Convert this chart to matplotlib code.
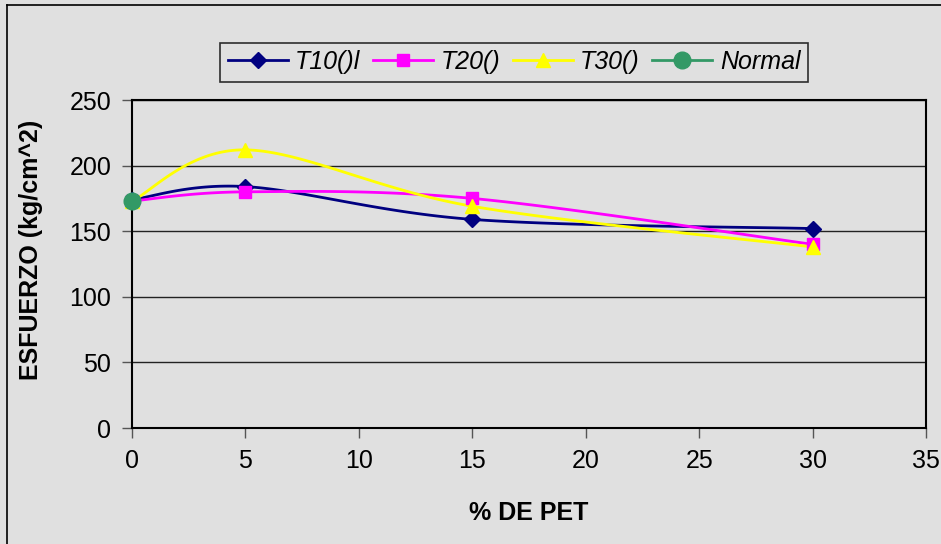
import numpy as np
import matplotlib.pyplot as plt
from matplotlib.lines import Line2D

plt.rcParams['font.family'] = ['Liberation Sans', 'DejaVu Sans']

# % de PET en la mezcla
pet = [0, 5, 15, 30]
t10 = [174, 184, 159, 152]
t20 = [173, 180, 175, 140]
t30 = [173, 212, 169, 138]
normal_x = [0]
normal_y = [173]

x_ticks = [0, 5, 10, 15, 20, 25, 30, 35]
y_ticks = [0, 50, 100, 150, 200, 250]


def smooth(xs, ys, n=40):
    # Catmull-Rom curve through the points, like a "smoothed line" in a spreadsheet
    p = np.column_stack([xs, ys]).astype(float)
    ext = np.vstack([p[0], p, p[-1]])
    out = []
    t = np.linspace(0, 1, n)[:, None]
    for i in range(1, len(ext) - 2):
        p0, p1, p2, p3 = ext[i - 1], ext[i], ext[i + 1], ext[i + 2]
        c1 = p1 + (p2 - p0) / 6
        c2 = p2 - (p3 - p1) / 6
        seg = ((1 - t) ** 3) * p1 + 3 * ((1 - t) ** 2) * t * c1 + 3 * (1 - t) * t ** 2 * c2 + t ** 3 * p2
        out.append(seg)
    curve = np.vstack(out)
    return curve[:, 0], curve[:, 1]


bg = '#e0e0e0'
fig = plt.figure(figsize=(9.41, 5.44), dpi=100, facecolor=bg)
ax = fig.add_axes([132 / 941, 116 / 544, 794 / 941, 328 / 544])
ax.set_facecolor(bg)

series = [
    (t10, '#000080', 'D', 8, 'T10()l'),
    (t20, '#ff00ff', 's', 9, 'T20()'),
    (t30, '#ffff00', '^', 10, 'T30()'),
]
handles = []
for ys, col, mk, ms, lab in series:
    sx, sy = smooth(pet, ys)
    ax.plot(sx, sy, color=col, lw=2, zorder=3, clip_on=False)
    ax.plot(pet, ys, ls='none', marker=mk, ms=ms, color=col, zorder=4, clip_on=False)
    handles.append(Line2D([], [], color=col, lw=2, marker=mk, ms=ms, label=lab))

ax.plot(normal_x, normal_y, ls='none', marker='o', ms=12, color='#339966', zorder=5, clip_on=False)
handles.append(Line2D([], [], color='#339966', lw=2, marker='o', ms=12, label='Normal'))

ax.set_xlim(0, 35)
ax.set_ylim(0, 250)
ax.set_xticks(x_ticks)
ax.set_yticks(y_ticks)
ax.tick_params(labelsize=18, length=7, width=1, color='#555555', pad=8)
ax.yaxis.grid(True, color='#222222', lw=1)
ax.set_axisbelow(True)
for s in ax.spines.values():
    s.set_color('black')
    s.set_linewidth(1.5)

ax.set_xlabel('% DE PET', fontsize=18, fontweight='bold', labelpad=20)
fig.text(31 / 941, 1 - 250 / 544, 'ESFUERZO (kg/cm^2)', fontsize=18, fontweight='bold',
         rotation=90, ha='center', va='center')

leg = fig.legend(handles=handles, loc='center', bbox_to_anchor=(514 / 941, 1 - 62 / 544),
                 ncol=4, frameon=True, fancybox=False, edgecolor='black',
                 prop={'size': 18, 'style': 'italic'}, handlelength=2.4,
                 handletextpad=0.3, columnspacing=0.5, borderpad=0.3, borderaxespad=0)
leg.get_frame().set_facecolor(bg)
leg.get_frame().set_linewidth(1.2)

# outer chart border
fig.add_artist(Line2D([7 / 941, 7 / 941], [0, 1 - 5 / 544], color='black', lw=1.2))
fig.add_artist(Line2D([7 / 941, 1], [1 - 5 / 544, 1 - 5 / 544], color='black', lw=1.2))

fig.savefig('out.png', dpi=100, facecolor=bg)
